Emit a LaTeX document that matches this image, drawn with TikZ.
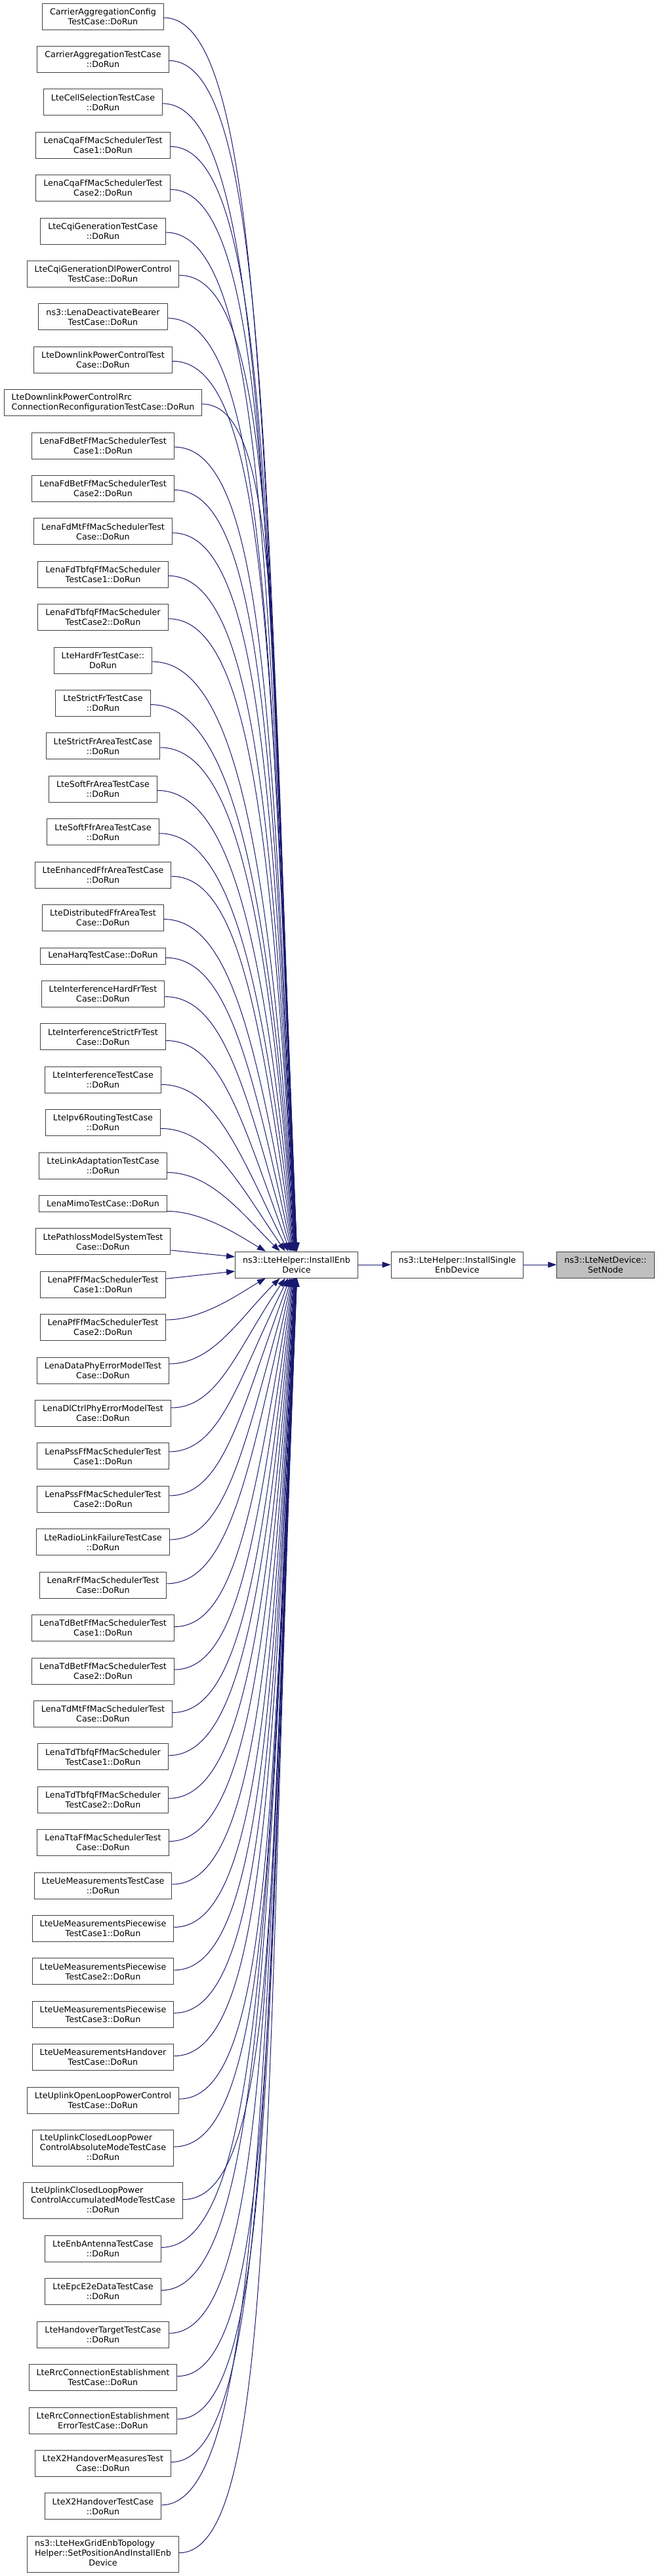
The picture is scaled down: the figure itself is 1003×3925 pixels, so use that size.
\documentclass[tikz,border=0pt]{standalone}
\usepackage{fontspec}
\setmainfont{DejaVu Sans}
\usepackage{tikz}
\usetikzlibrary{arrows.meta,calc}

\definecolor{edgeblue}{RGB}{25,25,112}
\definecolor{boxline}{RGB}{64,64,64}
\newdimen\xsdim
\newcommand{\leftpair}[2]{\begin{tabular}{@{}l@{}}#1\\#2\end{tabular}}
\newcommand{\leftthree}[3]{\begin{tabular}{@{}l@{}}#1\\#2\\\multicolumn{1}{@{}c@{}}{#3}\end{tabular}}

\begin{document}
\begin{tikzpicture}[x=1pt,y=1pt,yscale=-1,xscale=1,
  fn/.style={draw=boxline, line width=1pt, fill=white, align=center,
    font=\fontsize{12.7}{15}\selectfont, inner xsep=11.5pt, inner ysep=0pt,
    minimum height=#1},
  fn/.default=40,
  edge/.style={draw=edgeblue, line width=1pt, -{Triangle[length=13pt,width=9pt]}}]
\fill[white] (0,0) rectangle (1003,3925);
\useasboundingbox (0,0) rectangle (1003,3925);

% Text Node: callees
\node[fn] (enb) at (452,1927) {ns3::LteHelper::InstallEnb\\Device};
\node[fn] (single) at (697,1927) {ns3::LteHelper::InstallSingle\\EnbDevice};
\node[fn, fill=black!25] (setnode) at (923,1927) {ns3::LteNetDevice::\\SetNode};

% Straight Lines
\draw[edge] (enb) -- (single);
\draw[edge] (single) -- (setnode);

% Text Node: callers, one column from top to bottom
\def\ytop{5}
\foreach \nm/\txt/\hh [count=\k] in {
  cagc/{CarrierAggregationConfig\\TestCase::DoRun}/40,
  cagt/{CarrierAggregationTestCase\\::DoRun}/40,
  cellsel/{LteCellSelectionTestCase\\::DoRun}/40,
  cqaone/{LenaCqaFfMacSchedulerTest\\Case1::DoRun}/40,
  cqatwo/{LenaCqaFfMacSchedulerTest\\Case2::DoRun}/40,
  cqigen/{LteCqiGenerationTestCase\\::DoRun}/40,
  cqidl/{LteCqiGenerationDlPowerControl\\TestCase::DoRun}/40,
  deact/{ns3::LenaDeactivateBearer\\TestCase::DoRun}/40,
  dlpc/{LteDownlinkPowerControlTest\\Case::DoRun}/40,
  dlrrc/{\leftpair{LteDownlinkPowerControlRrc}{ConnectionReconfigurationTestCase::DoRun}}/40,
  fdbetone/{LenaFdBetFfMacSchedulerTest\\Case1::DoRun}/40,
  fdbettwo/{LenaFdBetFfMacSchedulerTest\\Case2::DoRun}/40,
  fdmt/{LenaFdMtFfMacSchedulerTest\\Case::DoRun}/40,
  fdtbfqone/{LenaFdTbfqFfMacScheduler\\TestCase1::DoRun}/40,
  fdtbfqtwo/{LenaFdTbfqFfMacScheduler\\TestCase2::DoRun}/40,
  hardfr/{LteHardFrTestCase::\\DoRun}/40,
  strictfr/{LteStrictFrTestCase\\::DoRun}/40,
  strictarea/{LteStrictFrAreaTestCase\\::DoRun}/40,
  softarea/{LteSoftFrAreaTestCase\\::DoRun}/40,
  softffr/{LteSoftFfrAreaTestCase\\::DoRun}/40,
  enhffr/{LteEnhancedFfrAreaTestCase\\::DoRun}/40,
  distffr/{LteDistributedFfrAreaTest\\Case::DoRun}/40,
  harq/{LenaHarqTestCase::DoRun}/25,
  ifhardfr/{LteInterferenceHardFrTest\\Case::DoRun}/40,
  ifstrictfr/{LteInterferenceStrictFrTest\\Case::DoRun}/40,
  interf/{LteInterferenceTestCase\\::DoRun}/40,
  ipvsix/{LteIpv6RoutingTestCase\\::DoRun}/40,
  linkad/{LteLinkAdaptationTestCase\\::DoRun}/40,
  mimo/{LenaMimoTestCase::DoRun}/25,
  pathloss/{LtePathlossModelSystemTest\\Case::DoRun}/40,
  pfone/{LenaPfFfMacSchedulerTest\\Case1::DoRun}/40,
  pftwo/{LenaPfFfMacSchedulerTest\\Case2::DoRun}/40,
  dataphy/{LenaDataPhyErrorModelTest\\Case::DoRun}/40,
  dlctrl/{LenaDlCtrlPhyErrorModelTest\\Case::DoRun}/40,
  pssone/{LenaPssFfMacSchedulerTest\\Case1::DoRun}/40,
  psstwo/{LenaPssFfMacSchedulerTest\\Case2::DoRun}/40,
  rlf/{LteRadioLinkFailureTestCase\\::DoRun}/40,
  rr/{LenaRrFfMacSchedulerTest\\Case::DoRun}/40,
  tdbetone/{LenaTdBetFfMacSchedulerTest\\Case1::DoRun}/40,
  tdbettwo/{LenaTdBetFfMacSchedulerTest\\Case2::DoRun}/40,
  tdmt/{LenaTdMtFfMacSchedulerTest\\Case::DoRun}/40,
  tdtbfqone/{LenaTdTbfqFfMacScheduler\\TestCase1::DoRun}/40,
  tdtbfqtwo/{LenaTdTbfqFfMacScheduler\\TestCase2::DoRun}/40,
  tta/{LenaTtaFfMacSchedulerTest\\Case::DoRun}/40,
  uemeas/{LteUeMeasurementsTestCase\\::DoRun}/40,
  uepwone/{LteUeMeasurementsPiecewise\\TestCase1::DoRun}/40,
  uepwtwo/{LteUeMeasurementsPiecewise\\TestCase2::DoRun}/40,
  uepwthree/{LteUeMeasurementsPiecewise\\TestCase3::DoRun}/40,
  uehandover/{LteUeMeasurementsHandover\\TestCase::DoRun}/40,
  ulopen/{LteUplinkOpenLoopPowerControl\\TestCase::DoRun}/40,
  ulabs/{\leftthree{LteUplinkClosedLoopPower}{ControlAbsoluteModeTestCase}{::DoRun}}/55,
  ulacc/{\leftthree{LteUplinkClosedLoopPower}{ControlAccumulatedModeTestCase}{::DoRun}}/55,
  antenna/{LteEnbAntennaTestCase\\::DoRun}/40,
  etwoe/{LteEpcE2eDataTestCase\\::DoRun}/40,
  hotarget/{LteHandoverTargetTestCase\\::DoRun}/40,
  rrc/{LteRrcConnectionEstablishment\\TestCase::DoRun}/40,
  rrcerr/{LteRrcConnectionEstablishment\\ErrorTestCase::DoRun}/40,
  xtwomeas/{LteX2HandoverMeasuresTest\\Case::DoRun}/40,
  xtwoho/{LteX2HandoverTestCase\\::DoRun}/40,
  hexgrid/{\leftthree{ns3::LteHexGridEnbTopology}{Helper::SetPositionAndInstallEnb}{Device}}/55}{
  \pgfmathsetmacro\yc{\ytop+\hh/2}
  \node[fn=\hh] (\nm) at (157,\yc) {\txt};
  \pgfmathsetmacro\ynext{\ytop+\hh+25.41}
  \global\let\ytop\ynext
  % Curves into InstallEnbDevice
  \ifnum\k=30
    \draw[edge] ($(\nm.east)+(0,13)$) -- ($(enb.west)+(0,-12)$);
  \else\ifnum\k=31
    \draw[edge] ($(\nm.east)+(0,-9)$) -- ($(enb.west)+(0,10)$);
  \else
    \pgfmathsetmacro\sg{\k<30 ? 1 : -1}
    \pgfmathsetmacro\rr{\k<30 ? 30-\k : \k-31}
    \pgfmathsetmacro\dd{abs(\yc-1927)}
    \pgfmathsetmacro\sh{\sg*min(\hh/2-1,2+12*max(0,1-\dd/500))}
    \pgfmathsetmacro\ex{4-51/(\rr^0.8)}
    \pgfmathsetmacro\ye{1927-\sg*20}
    \pgfmathsetmacro\dv{abs(\ye-\yc-\sh)}
    \pgfextractx{\xsdim}{\pgfpointanchor{\nm}{east}}
    \pgfmathsetmacro\dx{452+\ex-\xsdim}
    \pgfmathsetmacro\aa{min(150,0.35*\dx+0.06*\dv)}
    \pgfmathsetmacro\th{87.7-57.7*exp(-0.29*(\rr-1))}
    \pgfmathsetmacro\px{-0.65*\dv*cos(\th)}
    \pgfmathsetmacro\py{-\sg*0.65*\dv*sin(\th)}
    \ifnum\k<30 \def\anc{north}\else\def\anc{south}\fi
    \draw[edge] ($(\nm.east)+(0,\sh)$) .. controls +(\aa,0) and +(\px,\py) .. ($(enb.\anc)+(\ex,0)$);
  \fi\fi
}

\end{tikzpicture}
\end{document}
